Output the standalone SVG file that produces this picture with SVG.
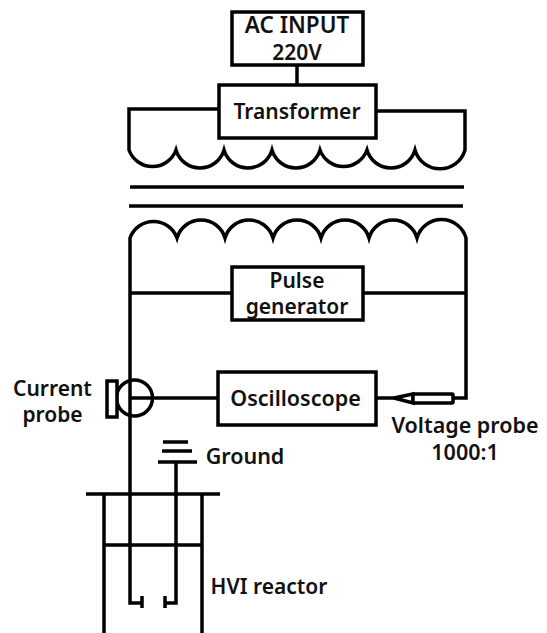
<svg xmlns="http://www.w3.org/2000/svg" width="547" height="633" viewBox="0 0 547 633">
<style>
.w{fill:none;stroke:#000;stroke-width:3.5}
.b{fill:#fff;stroke:#000;stroke-width:3.5}
text{font-family:"Noto Sans","Open Sans",sans-serif;font-weight:600;font-size:21px;fill:#111;text-anchor:middle}
</style>
<rect width="547" height="633" fill="#fff"/>
<g id="connectors">
<path class="w" d="M297 65V85"/>
<path class="w" d="M218 109H129V150A25 25 0 0 0 176 150A25 25 0 0 0 224 150A25 25 0 0 0 272 150A25 25 0 0 0 320 150A25 25 0 0 0 367 150A25 25 0 0 0 415 150A26 26 0 0 0 465 150V111H376"/>
<path class="w" d="M130 187H464M129 206H463"/>
<path class="w" d="M130 545V238A25 25 0 0 1 177 238A25 25 0 0 1 225 238A25 25 0 0 1 273 238A25 25 0 0 1 321 238A25 25 0 0 1 369 238A25 25 0 0 1 417 238A25.500 25.500 0 0 1 466 238V398H453"/>
<path class="w" d="M130 293H232M363 293H466"/>
<path class="w" d="M130 398H218M376 398H396"/>
<path class="w" d="M86 494H220M104 494V633M202 494V633M104 545H202"/>
<path class="w" d="M130 545V603H142M142 596V608M176 463V603H165M165 596V608"/>
</g>
<g id="ac-input"><rect class="b" x="232" y="12" width="131" height="53"/><text x="297" y="33" style="font-size:22.5px">AC INPUT</text><text x="297" y="60">220V</text></g>
<g id="transformer"><rect class="b" x="219" y="85" width="157" height="53"/><text x="297" y="119">Transformer</text></g>
<g id="pulse-generator"><rect class="b" x="232" y="267" width="131" height="53"/><text x="297" y="288">Pulse</text><text x="297" y="314">generator</text></g>
<g id="oscilloscope"><rect class="b" x="218" y="372" width="158" height="53"/><text x="295.500" y="406" style="font-size:21.5px">Oscilloscope</text></g>
<g id="current-probe"><circle class="w" cx="134.500" cy="398" r="18"/><rect class="b" x="107" y="381" width="10" height="36"/><text x="52.500" y="396">Current</text><text x="52.500" y="422">probe</text></g>
<g id="voltage-probe"><path class="b" stroke-linejoin="miter" d="M394 398L413 394V403Z"/><rect class="b" x="413" y="394" width="40" height="9" rx="1"/><text x="465" y="433" style="font-size:21.5px">Voltage probe</text><text x="465" y="460" style="font-size:21.5px">1000:1</text></g>
<g id="ground"><path class="w" d="M163 442H188M162 451H192M158 462H197"/><text x="245" y="464" style="font-size:21.5px">Ground</text></g>
<g id="hvi-reactor"><text x="269" y="594">HVI reactor</text></g>
</svg>
